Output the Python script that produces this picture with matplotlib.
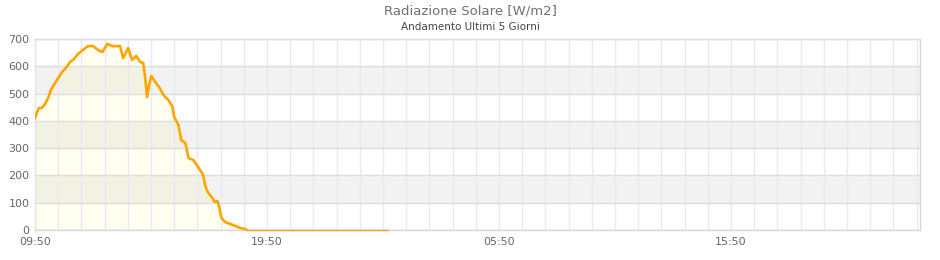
import matplotlib
matplotlib.use('Agg')
import matplotlib.pyplot as plt
import pandas as pd

# Solar radiation readings (W/m2), start 09:50 day 1
times = ['09:50', '09:55', '10:00', '10:08', '10:16', '10:24', '10:31', '10:42', '10:50',
         '11:00', '11:10', '11:21', '11:31', '11:41', '11:54', '12:07', '12:20', '12:33',
         '12:44', '12:57', '13:10', '13:30', '13:38', '13:51', '14:01', '14:12', '14:22',
         '14:30', '14:35', '14:40', '14:45', '14:51', '15:01', '15:11', '15:22', '15:35',
         '15:45', '15:50', '16:01', '16:08', '16:19', '16:27', '16:40', '16:52', '17:05',
         '17:11', '17:18', '17:29', '17:34', '17:42', '17:47', '17:52', '18:02', '18:15',
         '18:28', '18:41', '18:54', '18:57']
values = [410, 430, 447, 447, 462, 484, 513, 539, 557,
          579, 594, 616, 627, 645, 660, 674, 674, 660,
          652, 682, 674, 674, 630, 667, 623, 638, 616,
          612, 557, 487, 531, 564, 542, 524, 495, 476,
          454, 414, 385, 330, 319, 264, 256, 231, 201,
          158, 136, 117, 103, 106, 81, 44, 29, 22,
          15, 7, 4, 0]

# night readings at zero
night_times = ['18:57', '01:03']
night_values = [0, 0]

tick_labels = ['09:50', '19:50', '05:50', '15:50']
y_ticks = [0, 100, 200, 300, 400, 500, 600, 700]

start = pd.Timestamp('2024-01-01 09:50')
x_end_hours = 38.15


def to_hours(t_list):
    out = []
    prev = 0.0
    day = 0
    for t in t_list:
        h = (pd.Timestamp('2024-01-01 ' + t) - start).total_seconds() / 3600 + 24 * day
        if h < prev:
            day += 1
            h += 24
        prev = h
        out.append(h)
    return out


x = to_hours(times)
xn = to_hours(night_times)

fig = plt.figure(figsize=(9.4, 2.6), dpi=100)
ax = fig.add_axes([35 / 940, 30 / 260, 885 / 940, 191 / 260])

ax.fill_between(x, values, 0, color='#fffff0', zorder=1, linewidth=0)
for lo in (100, 300, 500):
    ax.axhspan(lo, lo + 100, color='black', alpha=0.05, zorder=2, linewidth=0)

for h in range(0, 39):
    ax.axvline(h, color='#e8e8f8', linewidth=1, zorder=3)
for v in y_ticks:
    ax.axhline(v, color='#dddddd', linewidth=1, zorder=3)

ax.plot(x, values, color='#ffa500', linewidth=1.9, zorder=5, solid_joinstyle='round')
ax.plot(xn, [v + 1 for v in night_values], color='#f0a020', linewidth=1.0, zorder=6, clip_on=False)

ax.set_xlim(0, x_end_hours)
ax.set_ylim(0, 700)
ax.set_yticks(y_ticks)
ax.set_yticklabels([str(v) for v in y_ticks])
ax.set_xticks([0, 10, 20, 30])
ax.set_xticklabels(tick_labels)
ax.tick_params(length=0, labelsize=8, colors='#666666', pad=5)
ax.tick_params(axis='y', pad=4)
for s in ax.spines.values():
    s.set_color('#d8d8d8')
    s.set_linewidth(1)

fig.text(0.5, 1 - 11 / 260, 'Radiazione Solare [W/m2]', ha='center', va='center',
         fontsize=9.5, color='#707070')
fig.text(0.5, 1 - 27 / 260, 'Andamento Ultimi 5 Giorni', ha='center', va='center',
         fontsize=7.5, color='#444444')

fig.savefig('out.png', dpi=100)
